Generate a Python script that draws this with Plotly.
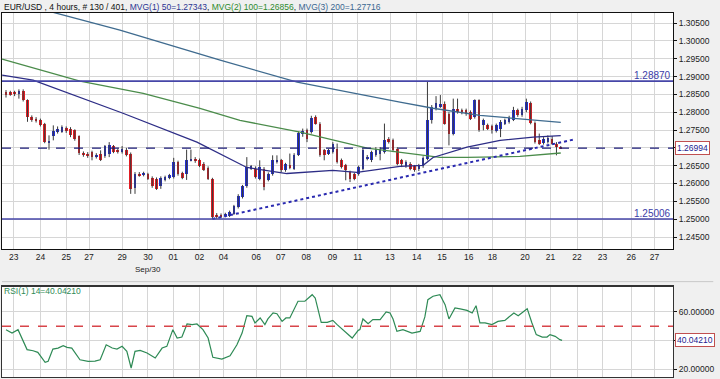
import plotly.graph_objects as go

# ---------------- data ----------------
opens = [1.2857,1.2857,1.2857,1.2852,1.2860,1.2834,1.2787,1.2782,1.2779,1.2768,
         1.2716,1.2732,1.2745,1.2745,1.2756,1.2754,1.2749,1.2732,1.2686,1.2684,
         1.2688,1.2674,1.2684,1.2676,1.2684,1.2704,1.2695,1.2688,1.2695,1.2684,
         1.2587,1.2627,1.2623,1.2627,1.2616,1.2613,1.2592,1.2610,1.2616,1.2618,
         1.2660,1.2629,1.2627,1.2665,1.2670,1.2667,1.2656,1.2644,1.2613,1.2513,
         1.2512,1.2509,1.2510,1.2515,1.2533,1.2562,1.2592,1.2642,1.2642,1.2613,
         1.2642,1.2611,1.2627,1.2660,1.2665,1.2637,1.2651,1.2642,1.2681,1.2740,
         1.2749,1.2745,1.2787,1.2768,1.2693,1.2684,1.2688,1.2698,1.2667,1.2651,
         1.2632,1.2627,1.2627,1.2641,1.2670,1.2665,1.2679,1.2684,1.2688,1.2726,
         1.2721,1.2698,1.2665,1.2648,1.2655,1.2648,1.2641,1.2648,1.2670,1.2777,
         1.2810,1.2815,1.2824,1.2796,1.2740,1.2810,1.2805,1.2805,1.2801,1.2787,
         1.2834,1.2763,1.2763,1.2760,1.2747,1.2754,1.2768,1.2773,1.2779,1.2805,
         1.2791,1.2805,1.2826,1.2770,1.2721,1.2713,1.2716,1.2726,1.2712,1.2702]
highs = [1.2862,1.2860,1.2860,1.2864,1.2864,1.2836,1.2791,1.2786,1.2782,1.2770,
         1.2735,1.2763,1.2760,1.2763,1.2760,1.2758,1.2752,1.2735,1.2690,1.2688,
         1.2692,1.2685,1.2693,1.2708,1.2716,1.2708,1.2698,1.2705,1.2700,1.2687,
         1.2632,1.2632,1.2633,1.2630,1.2620,1.2617,1.2620,1.2622,1.2627,1.2672,
         1.2664,1.2633,1.2695,1.2695,1.2674,1.2670,1.2660,1.2648,1.2616,1.2517,
         1.2516,1.2518,1.2524,1.2540,1.2570,1.2596,1.2674,1.2652,1.2648,1.2665,
         1.2646,1.2631,1.2679,1.2679,1.2669,1.2658,1.2684,1.2685,1.2746,1.2754,
         1.2754,1.2790,1.2791,1.2772,1.2697,1.2697,1.2716,1.2712,1.2670,1.2655,
         1.2636,1.2630,1.2650,1.2698,1.2680,1.2692,1.2702,1.2702,1.2768,1.2730,
         1.2726,1.2702,1.2669,1.2665,1.2660,1.2652,1.2655,1.2676,1.2887,1.2820,
         1.2845,1.2848,1.2830,1.2800,1.2838,1.2838,1.2810,1.2810,1.2805,1.2836,
         1.2836,1.2782,1.2768,1.2765,1.2768,1.2778,1.2782,1.2790,1.2815,1.2810,
         1.2815,1.2838,1.2830,1.2774,1.2740,1.2730,1.2735,1.2733,1.2716,1.2705]
lows = [1.2841,1.2846,1.2845,1.2838,1.2830,1.2773,1.2773,1.2771,1.2760,1.2713,
        1.2695,1.2721,1.2740,1.2742,1.2742,1.2730,1.2720,1.2680,1.2675,1.2672,
        1.2665,1.2670,1.2663,1.2672,1.2674,1.2685,1.2684,1.2684,1.2676,1.2571,
        1.2571,1.2619,1.2620,1.2610,1.2588,1.2582,1.2585,1.2606,1.2612,1.2614,
        1.2622,1.2612,1.2610,1.2662,1.2658,1.2646,1.2635,1.2610,1.25006,1.2501,
        1.2503,1.2505,1.2506,1.2512,1.2530,1.2558,1.2588,1.2638,1.2614,1.2609,
        1.2581,1.2606,1.2622,1.2656,1.2632,1.2633,1.2640,1.2638,1.2677,1.2731,
        1.2716,1.2740,1.2765,1.2675,1.2665,1.2680,1.2684,1.2656,1.2642,1.2609,
        1.2604,1.2609,1.2622,1.2637,1.2665,1.2660,1.2675,1.2665,1.2684,1.2712,
        1.2688,1.2651,1.2646,1.2644,1.2637,1.2633,1.2635,1.2644,1.2665,1.2768,
        1.2805,1.2812,1.2765,1.2707,1.2735,1.2796,1.2794,1.2790,1.2778,1.2782,
        1.2745,1.2749,1.2750,1.2740,1.2743,1.2730,1.2764,1.2768,1.2775,1.2787,
        1.2787,1.2800,1.2766,1.2712,1.2708,1.2709,1.2712,1.2708,1.2679,1.2697]
closes = [1.2848,1.2849,1.2850,1.2860,1.2834,1.2787,1.2778,1.2775,1.2763,1.2716,
          1.2720,1.2746,1.2754,1.2759,1.2746,1.2735,1.2726,1.2686,1.2679,1.2676,
          1.2674,1.2681,1.2665,1.2704,1.2707,1.2688,1.2688,1.2698,1.2679,1.2585,
          1.2627,1.2623,1.2629,1.2613,1.2592,1.2585,1.2616,1.2618,1.2623,1.2660,
          1.2627,1.2616,1.2667,1.2669,1.2662,1.2650,1.2639,1.2613,1.2506,1.2506,
          1.2507,1.2515,1.2520,1.2536,1.2566,1.2592,1.2646,1.2648,1.2618,1.2646,
          1.2590,1.2627,1.2665,1.2667,1.2637,1.2654,1.2644,1.2681,1.2742,1.2747,
          1.2726,1.2785,1.2768,1.2679,1.2679,1.2693,1.2712,1.2660,1.2646,1.2637,
          1.2613,1.2613,1.2646,1.2695,1.2674,1.2688,1.2698,1.2698,1.2721,1.2716,
          1.2693,1.2656,1.2655,1.2660,1.2641,1.2639,1.2651,1.2672,1.2777,1.2815,
          1.2826,1.2824,1.2768,1.2740,1.2810,1.2801,1.2798,1.2794,1.2782,1.2834,
          1.2749,1.2777,1.2754,1.2749,1.2763,1.2773,1.2777,1.2785,1.2805,1.2791,
          1.2810,1.2829,1.2770,1.2716,1.2712,1.2726,1.2729,1.2712,1.2701,1.26994]

ma50_x = [-0.9, 6.3, 27.2, 44.4, 56.0, 65.3, 76.0, 81.6, 91.6, 97.0, 99.3, 107.2, 114.9, 122.6, 129.0]
ma50_y = [1.2904, 1.2890, 1.2797, 1.2716, 1.2645, 1.2628, 1.2637, 1.2631, 1.2648, 1.2651,
          1.2673, 1.2702, 1.2721, 1.2730, 1.27343]
ma100_x = [-0.9, 17.2, 31.9, 45.1, 54.4, 68.4, 84.0, 100.9, 107.2, 119.5, 129.0]
ma100_y = [1.2949, 1.2887, 1.2853, 1.2811, 1.2777, 1.2744, 1.2699, 1.2673, 1.2673, 1.2676, 1.26856]
ma200_x = [-0.9, 12.6, 26.5, 49.8, 67.7, 91.6, 99.3, 110.2, 129.0]
ma200_y = [1.3118, 1.3075, 1.3030, 1.2946, 1.2884, 1.2828, 1.2811, 1.2791, 1.27716]

trend_x = [48, 132.3]
trend_y = [1.25006, 1.2724]

level_high = 1.28870
level_low = 1.25006
last_close = 1.26994

rsi_x = [0.0, 1.4, 2.8, 4.9, 6.3, 7.4, 9.1, 9.8, 10.9, 12.1, 13.3, 14.2, 15.3, 17.2, 19.1, 20.7,
         21.9, 23.3, 24.7, 25.8, 27.0, 28.1, 29.1, 30.0, 31.2, 32.8, 34.7, 36.3, 37.4, 38.8,
         39.8, 40.9, 42.1, 43.3, 44.4, 45.8, 47.0, 48.1, 50.2, 52.1, 53.7, 54.9, 56.0, 57.2,
         57.9, 59.1, 60.2, 60.9, 62.1, 63.0, 64.2, 65.1, 66.0, 67.9, 69.5, 71.2, 71.9, 73.3,
         74.7, 76.0, 77.0, 78.8, 80.5, 81.9, 82.3, 83.0, 84.2, 85.3, 87.0, 88.4, 89.3, 90.0,
         90.9, 92.3, 94.4, 96.3, 97.4, 98.1, 99.3, 100.9, 102.1, 103.0, 104.4, 105.6, 107.2,
         108.4, 109.3, 110.2, 111.4, 113.0, 114.4, 116.0, 118.1, 119.1, 121.2, 122.3, 123.3,
         124.7, 125.8, 126.5, 127.7, 128.8, 129.3]
rsi_v = [47.6, 45.2, 47.6, 33.6, 32.8, 31.7, 24.7, 25.4, 34.0, 34.7, 36.3, 35.2, 34.7, 26.5, 25.4,
         25.6, 26.5, 37.0, 34.7, 34.0, 35.9, 32.4, 20.7, 32.4, 33.1, 31.2, 27.7, 34.7, 35.9, 47.6,
         41.7, 42.4, 51.6, 51.1, 51.6, 47.6, 41.7, 28.2, 27.0, 29.3, 37.0, 45.2, 57.4, 56.9, 52.3,
         55.8, 51.1, 55.1, 59.3, 58.8, 53.4, 55.8, 55.8, 67.5, 67.5, 72.1, 69.8, 52.7, 52.7, 54.1,
         51.1, 46.4, 41.7, 47.1, 47.6, 55.1, 51.8, 54.6, 54.6, 60.0, 59.3, 55.1, 46.4, 47.6, 45.2,
         46.4, 56.5, 68.6, 71.0, 72.1, 65.1, 55.1, 62.8, 62.1, 61.1, 59.3, 64.4, 52.3, 52.3, 51.1,
         53.4, 54.1, 59.3, 57.4, 62.3, 52.3, 44.1, 42.4, 42.4, 44.1, 42.9, 40.6, 40.04]
rsi_last = 40.04210

date_pos = [1.8, 8.0, 14.0, 19.3, 27.0, 33.0, 38.9, 45.0, 50.6, 58.2, 63.9, 69.8, 75.9, 81.8,
            89.3, 95.5, 101.4, 107.6, 113.1, 120.7, 126.6, 132.8, 138.7, 145.4, 150.8]
date_labels = ["23", "24", "25", "27", "29", "30", "01", "02", "04", "06", "07", "08", "09", "11",
               "13", "14", "15", "16", "18", "20", "21", "22", "23", "26", "27"]
price_ticks = [1.245 + 0.005 * k for k in range(13)]
# the 1.27000 label is hidden behind the last-price box
price_tick_labels = ["" if abs(v - 1.27) < 1e-9 else f"{v:.5f}" for v in price_ticks]
rsi_ticks = [20, 40, 60]
rsi_tick_labels = ["20.00000", "", "60.00000"]

# ---------------- styles ----------------
FONT = "Liberation Sans, Arial, sans-serif"
RED = "#e21d24"
BLUE = "#2430d0"
WICK = "#3a3a3a"
GRID = "#d6d6d6"

idx = list(range(len(opens)))
body_base = [min(o, c) for o, c in zip(opens, closes)]
body_h = [max(abs(c - o), 0.00025) for o, c in zip(opens, closes)]
body_col = [RED if c < o else BLUE for o, c in zip(opens, closes)]

wx, wy = [], []
for i, h, l in zip(idx, highs, lows):
    wx += [i, i, None]
    wy += [l, h, None]

fig = go.Figure()
fig.add_trace(go.Scatter(x=wx, y=wy, mode="lines", line=dict(color=WICK, width=1),
                         hoverinfo="skip", showlegend=False, xaxis="x", yaxis="y"))
fig.add_trace(go.Bar(x=idx, y=body_h, base=body_base, width=0.62,
                     marker=dict(color=body_col, line=dict(width=0)),
                     showlegend=False, xaxis="x", yaxis="y"))
fig.add_trace(go.Scatter(x=ma200_x, y=ma200_y, mode="lines", line=dict(color="#3f6b8f", width=1.3),
                         showlegend=False, xaxis="x", yaxis="y"))
fig.add_trace(go.Scatter(x=ma100_x, y=ma100_y, mode="lines", line=dict(color="#4b8c4b", width=1.3),
                         showlegend=False, xaxis="x", yaxis="y"))
fig.add_trace(go.Scatter(x=ma50_x, y=ma50_y, mode="lines", line=dict(color="#2d2d86", width=1.3),
                         showlegend=False, xaxis="x", yaxis="y"))
fig.add_trace(go.Scatter(x=trend_x, y=trend_y, mode="lines",
                         line=dict(color="#2a2ab0", width=2, dash="dot"),
                         showlegend=False, xaxis="x", yaxis="y"))
fig.add_trace(go.Scatter(x=rsi_x, y=rsi_v, mode="lines", line=dict(color="#2e8a55", width=1.2),
                         showlegend=False, xaxis="x2", yaxis="y2"))

shapes = [
    dict(type="line", xref="x domain", yref="y", x0=0, x1=1, y0=level_high, y1=level_high,
         line=dict(color="#4646a8", width=1.6)),
    dict(type="line", xref="x domain", yref="y", x0=0, x1=1, y0=level_low, y1=level_low,
         line=dict(color="#4646a8", width=1.6)),
    dict(type="line", xref="x domain", yref="y", x0=0, x1=1, y0=last_close, y1=last_close,
         line=dict(color="#1c1c78", width=1.3, dash="dash")),
    dict(type="line", xref="x2 domain", yref="y2", x0=0, x1=1, y0=50, y1=50,
         line=dict(color="#d8454a", width=1.5, dash="dash")),
    dict(type="line", xref="paper", yref="paper", x0=0, x1=1.06, y0=0.262, y1=0.262,
         line=dict(color="#c8c8c8", width=1)),
    dict(type="line", xref="x2 domain", yref="y2 domain", x0=0, x1=1, y0=1, y1=1,
         line=dict(color="#333", width=2)),
]

ann = [
    dict(xref="paper", yref="paper", x=0, y=1.0165, xanchor="left", yanchor="middle",
         showarrow=False, font=dict(family=FONT, size=8.5, color="#111"),
         text="EUR/USD , 4 hours, # 130 / 401, "
              "<span style='color:#2c3592'>MVG(1) 50=1.27343</span>, "
              "<span style='color:#2e8b2e'>MVG(2) 100=1.26856</span>, "
              "<span style='color:#3a6790'>MVG(3) 200=1.27716</span>"),
    dict(xref="paper", yref="y", x=1, y=level_high, xanchor="right", yanchor="bottom",
         showarrow=False, text="1.28870", font=dict(family=FONT, size=10, color="#3c3ca8"),
         yshift=-2),
    dict(xref="paper", yref="y", x=1, y=level_low, xanchor="right", yanchor="bottom",
         showarrow=False, text="1.25006", font=dict(family=FONT, size=10, color="#3c3ca8"),
         yshift=-2),
    dict(xref="paper", yref="y", x=1.003, y=last_close, xanchor="left", yanchor="middle",
         showarrow=False, text="1.26994", font=dict(family=FONT, size=8.5, color="#1c1c90"),
         bordercolor="#c05050", borderwidth=1, borderpad=1, bgcolor="white"),
    dict(xref="paper", yref="y2", x=1.003, y=rsi_last, xanchor="left", yanchor="middle",
         showarrow=False, text="40.04210", font=dict(family=FONT, size=8.5, color="#1c1c90"),
         bordercolor="#c05050", borderwidth=1, borderpad=1, bgcolor="white"),
    dict(xref="paper", yref="paper", x=0, y=0.236, xanchor="left", yanchor="middle",
         showarrow=False, text="RSI(1) 14=40.04210", font=dict(family=FONT, size=8.5, color="#2e8a55")),
    dict(xref="x", yref="paper", x=33, y=0.294, xanchor="center", yanchor="middle",
         showarrow=False, text="Sep/30", font=dict(family=FONT, size=8, color="#222")),
]

fig.update_layout(
    width=720, height=379,
    margin=dict(l=2, r=47, t=13, b=2, autoexpand=False),
    paper_bgcolor="#f0f0f0", plot_bgcolor="white",
    font=dict(family=FONT, size=8, color="#222"),
    showlegend=False, bargap=0,
    shapes=shapes, annotations=ann,
    xaxis=dict(domain=[0, 1], anchor="y", range=[-0.93, 155.1], automargin=False,
               tickmode="array", tickvals=date_pos, ticktext=date_labels,
               tickfont=dict(size=8.5, color="#222"), ticks="", showgrid=True, gridcolor=GRID,
               gridwidth=1, zeroline=False, showline=True, linecolor="#111", linewidth=1, mirror=True),
    yaxis=dict(domain=[0.3516, 1], anchor="x", side="right", range=[1.24163, 1.30781], automargin=False,
               tickmode="array", tickvals=price_ticks, ticktext=price_tick_labels,
               ticks="outside", ticklen=3, tickcolor="#111", tickfont=dict(size=8.5, color="#222"),
               showgrid=True, gridcolor=GRID, zeroline=False,
               showline=True, linecolor="#111", linewidth=1, mirror=True),
    xaxis2=dict(domain=[0, 1], anchor="y2", matches="x", range=[-0.93, 155.1], automargin=False,
                tickmode="array", tickvals=date_pos, showticklabels=False, ticks="",
                showgrid=True, gridcolor=GRID, zeroline=False,
                showline=True, linecolor="#333", linewidth=1, mirror=True),
    yaxis2=dict(domain=[0, 0.25], anchor="x2", side="right", range=[14.4, 78.2], automargin=False,
                tickmode="array", tickvals=rsi_ticks, ticktext=rsi_tick_labels,
                ticks="outside", ticklen=3, tickcolor="#111", tickfont=dict(size=8.5, color="#222"),
                showgrid=True, gridcolor=GRID, zeroline=False,
                showline=True, linecolor="#333", linewidth=1, mirror=True),
)

fig.write_html("out.html", config={"displayModeBar": False},
               post_script="document.body.style.margin='0px';document.body.style.padding='0px';"
                           "document.body.style.overflow='hidden';")
